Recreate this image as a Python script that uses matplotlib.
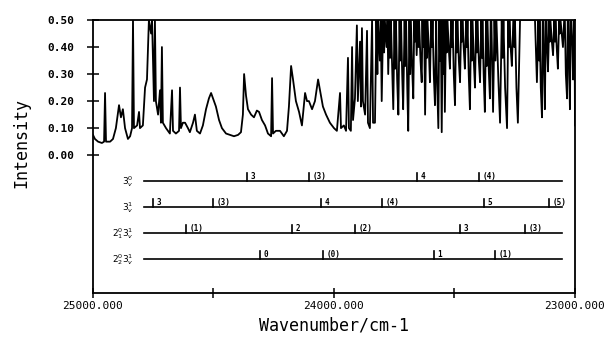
import numpy as np
import matplotlib
matplotlib.use("Agg")
from matplotlib import pyplot as plt

# spectrum (wavenumber / cm-1, intensity)
# 25000 - 23838: separated bands
wn_a = [25000, 24992, 24979, 24963, 24954, 24950, 24946, 24929, 24917, 24905,
        24892, 24884, 24876, 24867, 24855, 24846, 24838, 24834, 24830, 24817,
        24809, 24805, 24793, 24784, 24776, 24768, 24759, 24755, 24747, 24743,
        24739, 24730, 24722, 24718, 24714, 24710, 24697, 24681, 24672, 24668,
        24656, 24643, 24639, 24635, 24627, 24618, 24606, 24598, 24585, 24577,
        24569, 24556, 24544, 24531, 24519, 24510, 24502, 24490, 24477, 24465,
        24448, 24432, 24415, 24398, 24386, 24378, 24373, 24365, 24357, 24344,
        24332, 24320, 24311, 24299, 24286, 24274, 24261, 24257, 24253, 24241,
        24224, 24208, 24195, 24187, 24178, 24170, 24158, 24145, 24133, 24120,
        24112, 24104, 24091, 24079, 24066, 24058, 24046, 24033, 24017, 24000,
        23988, 23975, 23971, 23959, 23950, 23942, 23938, 23930, 23925, 23921,
        23913, 23905, 23901, 23892, 23888, 23884, 23880, 23871, 23863, 23859,
        23851, 23842, 23838]
int_a = [0.075, 0.06, 0.05, 0.045, 0.05, 0.23, 0.05, 0.05, 0.06, 0.10,
         0.185, 0.14, 0.17, 0.10, 0.06, 0.07, 0.10, 0.50, 0.10, 0.11,
         0.16, 0.10, 0.11, 0.25, 0.28, 0.50, 0.45, 0.50, 0.20, 0.50,
         0.20, 0.15, 0.24, 0.12, 0.40, 0.12, 0.10, 0.08, 0.24, 0.09,
         0.08, 0.09, 0.25, 0.10, 0.12, 0.12, 0.10, 0.085, 0.12, 0.15,
         0.09, 0.08, 0.11, 0.17, 0.21, 0.23, 0.21, 0.18, 0.13, 0.10,
         0.08, 0.075, 0.07, 0.075, 0.085, 0.15, 0.30, 0.22, 0.17, 0.15,
         0.14, 0.165, 0.16, 0.13, 0.11, 0.08, 0.07, 0.285, 0.08, 0.09,
         0.09, 0.07, 0.09, 0.18, 0.33, 0.28, 0.20, 0.16, 0.11, 0.23,
         0.20, 0.20, 0.17, 0.20, 0.28, 0.24, 0.18, 0.15, 0.12, 0.10,
         0.09, 0.23, 0.10, 0.11, 0.09, 0.36, 0.10, 0.09, 0.40, 0.13,
         0.21, 0.48, 0.20, 0.42, 0.18, 0.47, 0.20, 0.15, 0.46, 0.12,
         0.10, 0.50, 0.12]

# 23830 - 23000: dense, saturated line region
wn_b = [23830, 23824, 23820, 23817, 23810, 23806, 23802, 23796, 23792, 23789,
        23782, 23778, 23775, 23770, 23767, 23764, 23758, 23754, 23749, 23746,
        23743, 23738, 23733, 23728, 23725, 23722, 23717, 23713, 23707, 23704,
        23701, 23696, 23692, 23687, 23684, 23681, 23676, 23671, 23667, 23664,
        23660, 23657, 23652, 23649, 23647, 23641, 23636, 23633, 23631, 23626,
        23622, 23617, 23614, 23612, 23606, 23602, 23597, 23594, 23591, 23586,
        23581, 23576, 23573, 23567, 23563, 23560, 23557, 23553, 23549, 23546,
        23543, 23540, 23535, 23532, 23529, 23524, 23519, 23514, 23511, 23508,
        23503, 23498, 23493, 23490, 23488, 23482, 23477, 23472, 23469, 23467,
        23462, 23457, 23452, 23449, 23446, 23441, 23436, 23431, 23428, 23425,
        23420, 23415, 23410, 23407, 23405, 23399, 23394, 23389, 23386, 23384,
        23379, 23374, 23369, 23366, 23363, 23358, 23353, 23350, 23347, 23343,
        23340, 23334, 23330, 23326, 23318, 23311, 23304, 23300, 23297, 23290,
        23282, 23277, 23274, 23272, 23267, 23262, 23256, 23252, 23249, 23243,
        23237, 23228, 23166, 23158, 23152, 23149, 23147, 23142, 23137, 23134,
        23131, 23128, 23125, 23121, 23118, 23115, 23112, 23107, 23104, 23102,
        23096, 23091, 23086, 23083, 23081, 23076, 23071, 23066, 23063, 23060,
        23055, 23050, 23045, 23042, 23038, 23033, 23030, 23027, 23024, 23021,
        23018, 23015, 23011, 23008, 23004, 23001, 23000]
int_b = [0.12, 0.50, 0.30, 0.50, 0.35, 0.50, 0.20, 0.50, 0.38, 0.50,
         0.40, 0.50, 0.30, 0.50, 0.36, 0.50, 0.30, 0.17, 0.50, 0.32,
         0.50, 0.28, 0.15, 0.50, 0.35, 0.50, 0.30, 0.17, 0.50, 0.33,
         0.50, 0.25, 0.09, 0.50, 0.30, 0.50, 0.33, 0.21, 0.50, 0.42,
         0.50, 0.37, 0.50, 0.40, 0.50, 0.35, 0.27, 0.50, 0.40, 0.50,
         0.15, 0.50, 0.36, 0.50, 0.38, 0.27, 0.50, 0.40, 0.50, 0.30,
         0.185, 0.50, 0.30, 0.10, 0.50, 0.35, 0.50, 0.085, 0.50, 0.30,
         0.50, 0.16, 0.50, 0.38, 0.50, 0.40, 0.32, 0.50, 0.40, 0.50,
         0.30, 0.185, 0.50, 0.38, 0.50, 0.35, 0.27, 0.50, 0.42, 0.50,
         0.40, 0.32, 0.50, 0.40, 0.50, 0.30, 0.17, 0.50, 0.35, 0.50,
         0.35, 0.25, 0.50, 0.38, 0.50, 0.35, 0.27, 0.50, 0.36, 0.50,
         0.30, 0.16, 0.50, 0.33, 0.50, 0.32, 0.21, 0.50, 0.50, 0.30,
         0.16, 0.50, 0.35, 0.50, 0.28, 0.12, 0.50, 0.36, 0.50, 0.25,
         0.10, 0.50, 0.40, 0.50, 0.40, 0.33, 0.50, 0.40, 0.50, 0.25,
         0.12, 0.50, 0.50, 0.27, 0.50, 0.35, 0.50, 0.25, 0.14, 0.50,
         0.50, 0.30, 0.17, 0.50, 0.50, 0.38, 0.31, 0.50, 0.42, 0.50,
         0.42, 0.37, 0.50, 0.42, 0.50, 0.40, 0.32, 0.50, 0.45, 0.50,
         0.45, 0.40, 0.50, 0.50, 0.30, 0.21, 0.50, 0.50, 0.30, 0.17,
         0.50, 0.50, 0.40, 0.28, 0.50, 0.30, 0.11]

# assignment combs
row_names = [r'$3^0_v$', r'$3^1_v$', r'$2^0_1 3^1_v$', r'$2^0_2 3^1_v$']
row_level = [-0.096, -0.193, -0.289, -0.385]
row_start, row_end = 24790, 23054
row1_pos = [24361, 24104, 23656, 23398]
row1_lab = ['3', '(3)', '4', '(4)']
row2_pos = [24751, 24502, 24054, 23801, 23378, 23108]
row2_lab = ['3', '(3)', '4', '(4)', '5', '(5)']
row3_pos = [24614, 24174, 23913, 23477, 23207]
row3_lab = ['(1)', '2', '(2)', '3', '(3)']
row4_pos = [24307, 24046, 23585, 23332]
row4_lab = ['0', '(0)', '1', '(1)']

yticks = [0.0, 0.1, 0.2, 0.3, 0.4, 0.5]
xticks = [25000, 24000, 23000]

mono = 'DejaVu Sans Mono'

fig = plt.figure(figsize=(6.13, 3.48), dpi=100)
ax = fig.add_axes([0.1517, 0.158, 0.7863, 0.7845])

ax.plot(wn_a + wn_b, int_a + int_b, color='black', lw=1.3)

rows = [(row1_pos, row1_lab), (row2_pos, row2_lab),
        (row3_pos, row3_lab), (row4_pos, row4_lab)]
for (pos, lab), lev, name in zip(rows, row_level, row_names):
    ax.plot([row_start, row_end], [lev, lev], color='black', lw=1.2)
    for p, l in zip(pos, lab):
        ax.plot([p, p], [lev, lev + 0.03], color='black', lw=1.2)
        ax.annotate(l, (p, lev + 0.017), xytext=(2.5, 0),
                    textcoords='offset points', va='center', ha='left',
                    fontsize=5.5, fontweight='bold', family=mono)
    ax.annotate(name, (row_start, lev), xytext=(-7, 0),
                textcoords='offset points', va='center', ha='right',
                fontsize=6.5)

ax.set_xlim(25000, 23000)
ax.set_ylim(-0.51, 0.50)
ax.set_yticks(yticks)
ax.set_yticklabels(['%.2f' % v for v in yticks])
ax.set_xticks(xticks)
ax.set_xticklabels(['%.3f' % v for v in xticks])
ax.set_xticks([24500, 23500], minor=True)
ax.tick_params(axis='y', direction='inout', length=9, width=1.1, pad=9,
               labelsize=8)
ax.tick_params(axis='x', which='both', direction='inout', length=7, width=1.1,
               pad=2, labelsize=8)
for lbl in ax.get_yticklabels() + ax.get_xticklabels():
    lbl.set_family(mono)
for lbl in ax.get_yticklabels():
    lbl.set_fontweight('bold')
for s in ax.spines.values():
    s.set_linewidth(1.3)

ax.set_xlabel('Wavenumber/cm-1', family=mono, fontsize=12, labelpad=4)
ax.set_ylabel('Intensity', family=mono, fontsize=12)
ax.yaxis.set_label_coords(-0.13, 0.55)

fig.savefig('out.png', dpi=100)
